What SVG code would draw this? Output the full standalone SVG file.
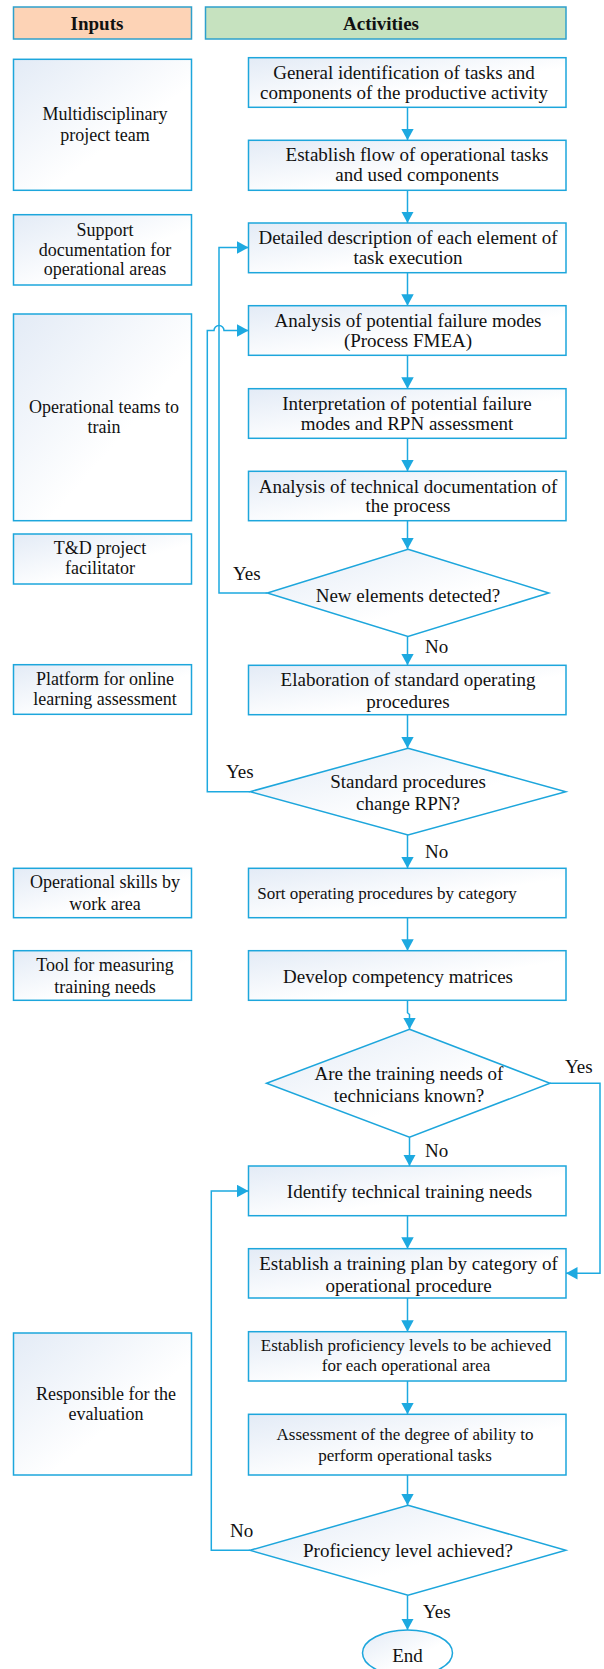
<svg xmlns="http://www.w3.org/2000/svg" width="604" height="1669" viewBox="0 0 604 1669">
<style>
.box{fill:url(#g);stroke:#1DA6DC;stroke-width:1.5}
.hdr{stroke:#2EA0CC;stroke-width:1.5}
.t{font-family:"Liberation Serif","Times New Roman",serif;font-size:19px;fill:#111;text-anchor:middle;dominant-baseline:central}
.ti{font-size:18px}
.ts{font-size:17px}
.b{font-weight:bold}
.lbl{font-family:"Liberation Serif","Times New Roman",serif;font-size:19px;fill:#111;dominant-baseline:central}
.c{fill:none;stroke:#1DA9E0;stroke-width:1.5}
</style>
<defs>
<linearGradient id="g" x1="0" y1="0" x2="1" y2="1">
<stop offset="0" stop-color="#E3EBF6"/>
<stop offset="0.6" stop-color="#FFFFFF"/>
<stop offset="1" stop-color="#FFFFFF"/>
</linearGradient>
<marker id="a" markerUnits="userSpaceOnUse" markerWidth="12" markerHeight="13" refX="11.5" refY="6.25" orient="auto">
<path d="M0,0 L11.5,6.25 L0,12.5 z" fill="#1DA9E0"/>
</marker>
</defs>

<g id="hdr-inputs"><rect class="hdr" x="13.5" y="7" width="178" height="32" fill="#FDD3B6"/><text class="t b" x="97" y="23">Inputs</text></g>
<g id="hdr-activities"><rect class="hdr" x="205.5" y="7" width="360.5" height="32" fill="#C6E2BF"/><text class="t b" x="381" y="23">Activities</text></g>

<g id="in1"><rect class="box" x="13.5" y="59.3" width="178" height="131"/><text class="t ti" x="105" y="114.3">Multidisciplinary</text><text class="t ti" x="105" y="135">project team</text></g>
<g id="in2"><rect class="box" x="13.5" y="214.7" width="178" height="70.3"/><text class="t ti" x="105" y="230">Support</text><text class="t ti" x="105" y="249.5">documentation for</text><text class="t ti" x="105" y="269">operational areas</text></g>
<g id="in3"><rect class="box" x="13.5" y="314" width="178" height="206.7"/><text class="t ti" x="104" y="407.3">Operational teams to</text><text class="t ti" x="104" y="426.7">train</text></g>
<g id="in4"><rect class="box" x="13.5" y="534" width="178" height="50"/><text class="t ti" x="100" y="548.3">T&amp;D project</text><text class="t ti" x="100" y="567.7">facilitator</text></g>
<g id="in5"><rect class="box" x="13.5" y="664.7" width="178" height="49.6"/><text class="t ti" x="105" y="679">Platform for online</text><text class="t ti" x="105" y="699">learning assessment</text></g>
<g id="in6"><rect class="box" x="13.5" y="868.3" width="178" height="49.4"/><text class="t ti" x="105" y="882.3">Operational skills by</text><text class="t ti" x="105" y="904.3">work area</text></g>
<g id="in7"><rect class="box" x="13.5" y="950.7" width="178" height="49.6"/><text class="t ti" x="105" y="965">Tool for measuring</text><text class="t ti" x="105" y="986.7">training needs</text></g>
<g id="in8"><rect class="box" x="13.5" y="1333" width="178" height="142"/><text class="t ti" x="106" y="1394">Responsible for the</text><text class="t ti" x="106" y="1414">evaluation</text></g>

<g id="a1"><rect class="box" x="248.5" y="57.7" width="317.5" height="49.6"/><text class="t" x="404" y="72">General identification of tasks and</text><text class="t" x="404" y="92.3">components of the productive activity</text></g>
<g id="a2"><rect class="box" x="248.5" y="140.3" width="317.5" height="50"/><text class="t" x="417" y="154.3">Establish flow of operational tasks</text><text class="t" x="417" y="174.3">and used components</text></g>
<g id="a3"><rect class="box" x="248.5" y="223" width="317.5" height="49.7"/><text class="t" x="408" y="237">Detailed description of each element of</text><text class="t" x="408" y="257">task execution</text></g>
<g id="a4"><rect class="box" x="248.5" y="305.7" width="317.5" height="49.6"/><text class="t" x="408" y="320.3">Analysis of potential failure modes</text><text class="t" x="408" y="340">(Process FMEA)</text></g>
<g id="a5"><rect class="box" x="248.5" y="388.7" width="317.5" height="49.6"/><text class="t" x="407" y="403.3">Interpretation of potential failure</text><text class="t" x="407" y="423.3">modes and RPN assessment</text></g>
<g id="a6"><rect class="box" x="248.5" y="471.3" width="317.5" height="49.4"/><text class="t" x="408" y="486">Analysis of technical documentation of</text><text class="t" x="408" y="505.3">the process</text></g>
<g id="d1"><polygon class="box" points="408,549.3 548.8,593 408,636.5 267.3,593"/><text class="t" x="408" y="595">New elements detected?</text></g>
<g id="a7"><rect class="box" x="248.5" y="665.3" width="317.5" height="49.4"/><text class="t" x="408" y="679">Elaboration of standard operating</text><text class="t" x="408" y="701">procedures</text></g>
<g id="d2"><polygon class="box" points="408,748.3 565.8,791.7 408,835 250,791.7"/><text class="t" x="408" y="781.7">Standard procedures</text><text class="t" x="408" y="803.3">change RPN?</text></g>
<g id="a8"><rect class="box" x="248.5" y="868.3" width="317.5" height="49.4"/><text class="t ts" x="387" y="893.3">Sort operating procedures by category</text></g>
<g id="a9"><rect class="box" x="248.5" y="950.7" width="317.5" height="49.6"/><text class="t" x="398" y="976.7">Develop competency matrices</text></g>
<g id="d3"><polygon class="box" points="409.5,1029.3 550,1083.3 409.5,1137.3 266.5,1083.3"/><text class="t" x="409" y="1073.3">Are the training needs of</text><text class="t" x="409" y="1095.7">technicians known?</text></g>
<g id="a10"><rect class="box" x="248.5" y="1166" width="317.5" height="49.7"/><text class="t" x="409.5" y="1191">Identify technical training needs</text></g>
<g id="a11"><rect class="box" x="248.5" y="1248.7" width="317.5" height="49.3"/><text class="t" x="408.5" y="1263.3">Establish a training plan by category of</text><text class="t" x="408.5" y="1285.7">operational procedure</text></g>
<g id="a12"><rect class="box" x="248.5" y="1331.7" width="317.5" height="49.3"/><text class="t ts" x="406" y="1345.7">Establish proficiency levels to be achieved</text><text class="t ts" x="406" y="1365.7">for each operational area</text></g>
<g id="a13"><rect class="box" x="248.5" y="1414.3" width="317.5" height="60.7"/><text class="t ts" x="405" y="1434.3">Assessment of the degree of ability to</text><text class="t ts" x="405" y="1455">perform operational tasks</text></g>
<g id="d4"><polygon class="box" points="408,1505.3 565.8,1550.3 408,1595.3 250,1550.3"/><text class="t" x="408" y="1550.3">Proficiency level achieved?</text></g>
<g id="end"><ellipse class="box" cx="407.5" cy="1653" rx="45" ry="23"/><text class="t" x="407.5" y="1655">End</text></g>

<g id="connectors">
<path class="c" marker-end="url(#a)" d="M407.5,107.3 V140.3"/>
<path class="c" marker-end="url(#a)" d="M407.5,190.3 V223"/>
<path class="c" marker-end="url(#a)" d="M407.5,272.7 V305.7"/>
<path class="c" marker-end="url(#a)" d="M407.5,355.3 V388.7"/>
<path class="c" marker-end="url(#a)" d="M407.5,438.3 V471.3"/>
<path class="c" marker-end="url(#a)" d="M407.5,520.7 V549.3"/>
<path class="c" marker-end="url(#a)" d="M407.5,636.5 V665.3"/>
<path class="c" marker-end="url(#a)" d="M267.3,593 H219 V247.5 H248.5"/>
<path class="c" marker-end="url(#a)" d="M407.5,714.7 V748.3"/>
<path class="c" marker-end="url(#a)" d="M250,791.7 H207.3 V330.5 H214 A5,5 0 0 1 224,330.5 H248.5"/>
<path class="c" marker-end="url(#a)" d="M407.5,835 V868.3"/>
<path class="c" marker-end="url(#a)" d="M407.5,917.7 V950.7"/>
<path class="c" marker-end="url(#a)" d="M407.5,1000.3 V1012.7 L409.5,1014.5 V1029.3"/>
<path class="c" marker-end="url(#a)" d="M409.5,1137.3 V1166"/>
<path class="c" marker-end="url(#a)" d="M550,1083.3 H600 V1273.3 H566"/>
<path class="c" marker-end="url(#a)" d="M407.5,1215.7 V1248.7"/>
<path class="c" marker-end="url(#a)" d="M407.5,1298 V1331.7"/>
<path class="c" marker-end="url(#a)" d="M407.5,1381 V1414.3"/>
<path class="c" marker-end="url(#a)" d="M407.5,1475 V1505.3"/>
<path class="c" marker-end="url(#a)" d="M250,1550.3 H211.3 V1191 H248.5"/>
<path class="c" marker-end="url(#a)" d="M407.5,1595.3 V1630"/>
<text class="lbl" x="233" y="573">Yes</text>
<text class="lbl" x="425" y="646.7">No</text>
<text class="lbl" x="226" y="771">Yes</text>
<text class="lbl" x="425" y="851.7">No</text>
<text class="lbl" x="565" y="1066.7">Yes</text>
<text class="lbl" x="425" y="1150">No</text>
<text class="lbl" x="230" y="1530.7">No</text>
<text class="lbl" x="423" y="1611.7">Yes</text>
</g>
</svg>
